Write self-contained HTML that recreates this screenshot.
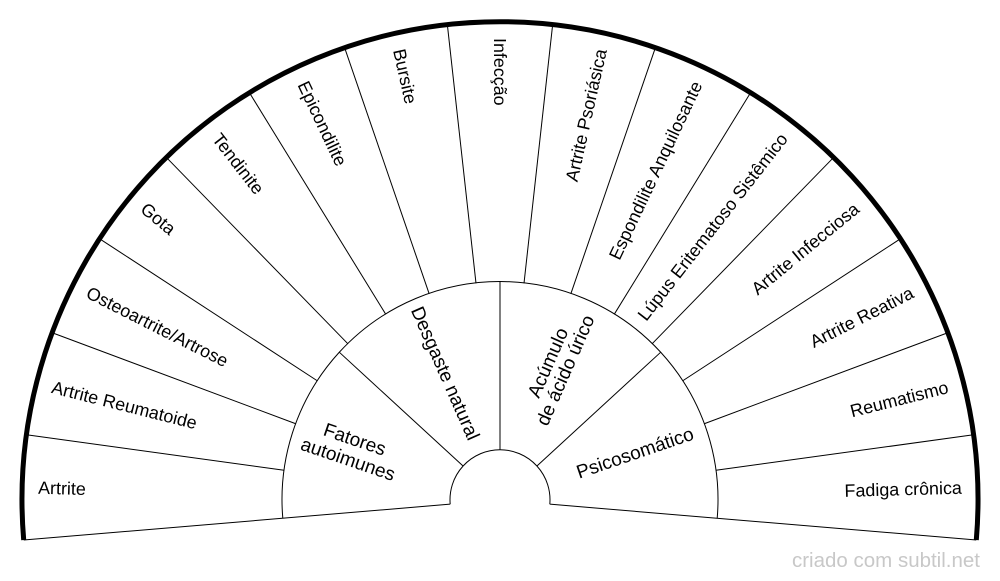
<!DOCTYPE html>
<html><head><meta charset="utf-8"><style>
html,body{margin:0;padding:0;background:#fff;}
svg{display:block;}
text{font-family:"Liberation Sans",sans-serif;fill:#000;}
</style></head><body>
<svg width="1000" height="581" viewBox="0 0 1000 581" xmlns="http://www.w3.org/2000/svg">
<g fill="none" stroke="#000" stroke-width="1">
<path d="M282.8,518.2 A218,218 0 1 1 717.2,518.2"/>
<path d="M450.2,504.2 A50,50 0 1 1 549.8,504.2"/>
</g>
<g transform="translate(500,500)" stroke="#000" stroke-width="1">
<line x1="50" y1="0" x2="478" y2="0" transform="rotate(-184.8)"/>
<line x1="50" y1="0" x2="478" y2="0" transform="rotate(4.8)"/>
<line x1="218" y1="0" x2="478" y2="0" transform="rotate(-172.16)"/>
<line x1="218" y1="0" x2="478" y2="0" transform="rotate(-159.52)"/>
<line x1="218" y1="0" x2="478" y2="0" transform="rotate(-146.88)"/>
<line x1="218" y1="0" x2="478" y2="0" transform="rotate(-134.24)"/>
<line x1="218" y1="0" x2="478" y2="0" transform="rotate(-121.6)"/>
<line x1="218" y1="0" x2="478" y2="0" transform="rotate(-108.96)"/>
<line x1="218" y1="0" x2="478" y2="0" transform="rotate(-96.32)"/>
<line x1="218" y1="0" x2="478" y2="0" transform="rotate(-83.68)"/>
<line x1="218" y1="0" x2="478" y2="0" transform="rotate(-71.04)"/>
<line x1="218" y1="0" x2="478" y2="0" transform="rotate(-58.4)"/>
<line x1="218" y1="0" x2="478" y2="0" transform="rotate(-45.76)"/>
<line x1="218" y1="0" x2="478" y2="0" transform="rotate(-33.12)"/>
<line x1="218" y1="0" x2="478" y2="0" transform="rotate(-20.48)"/>
<line x1="218" y1="0" x2="478" y2="0" transform="rotate(-7.84)"/>
<line x1="50" y1="0" x2="218" y2="0" transform="rotate(-137.4)"/>
<line x1="50" y1="0" x2="218" y2="0" transform="rotate(-90)"/>
<line x1="50" y1="0" x2="218" y2="0" transform="rotate(-42.6)"/>
</g>
<path d="M23.7,540 A478,478 0 1 1 976.3,540" fill="none" stroke="#000" stroke-width="5"/>
<g transform="translate(500,500)" font-size="17.9">
<text transform="rotate(-178.48) translate(462,0) rotate(180)" text-anchor="start" dominant-baseline="central">Artrite</text>
<text transform="rotate(-165.84) translate(462,0) rotate(180)" text-anchor="start" dominant-baseline="central">Artrite Reumatoide</text>
<text transform="rotate(-153.2) translate(462,0) rotate(180)" text-anchor="start" dominant-baseline="central">Osteoartrite/Artrose</text>
<text transform="rotate(-140.56) translate(462,0) rotate(180)" text-anchor="start" dominant-baseline="central">Gota</text>
<text transform="rotate(-127.92) translate(462,0) rotate(180)" text-anchor="start" dominant-baseline="central">Tendinite</text>
<text transform="rotate(-115.28) translate(462,0) rotate(180)" text-anchor="start" dominant-baseline="central">Epicondilite</text>
<text transform="rotate(-102.64) translate(462,0) rotate(180)" text-anchor="start" dominant-baseline="central">Bursite</text>
<text transform="rotate(-90) translate(462,0) rotate(180)" text-anchor="start" dominant-baseline="central">Infecção</text>
<text transform="rotate(-77.36) translate(462,0)" text-anchor="end" dominant-baseline="central">Artrite Psoriásica</text>
<text transform="rotate(-64.72) translate(462,0)" text-anchor="end" dominant-baseline="central">Espondilite Anquilosante</text>
<text transform="rotate(-52.08) translate(462,0)" text-anchor="end" dominant-baseline="central">Lúpus Eritematoso Sistêmico</text>
<text transform="rotate(-39.44) translate(462,0)" text-anchor="end" dominant-baseline="central">Artrite Infecciosa</text>
<text transform="rotate(-26.8) translate(462,0)" text-anchor="end" dominant-baseline="central">Artrite Reativa</text>
<text transform="rotate(-14.16) translate(462,0)" text-anchor="end" dominant-baseline="central">Reumatismo</text>
<text transform="rotate(-1.52) translate(462,0)" text-anchor="end" dominant-baseline="central">Fadiga crônica</text>
</g>
<g transform="translate(500,500)" font-size="19">
<text transform="rotate(-161.1) translate(157,0) rotate(180)" text-anchor="middle"><tspan x="0" y="-4">Fatores</tspan><tspan x="0" y="17">autoimunes</tspan></text>
<text transform="rotate(-113.7) translate(138,0) rotate(180)" text-anchor="middle" dominant-baseline="central">Desgaste natural</text>
<text transform="rotate(-66.3) translate(145,0)" text-anchor="middle"><tspan x="0" y="-5">Acúmulo</tspan><tspan x="0" y="14">de ácido úrico</tspan></text>
<text transform="rotate(-18.9) translate(143,0)" text-anchor="middle" dominant-baseline="central">Psicosomático</text>
</g>
<text x="980" y="567" text-anchor="end" font-size="20.5" style="fill:#c8c8c8">criado com subtil.net</text>
</svg>
</body></html>
